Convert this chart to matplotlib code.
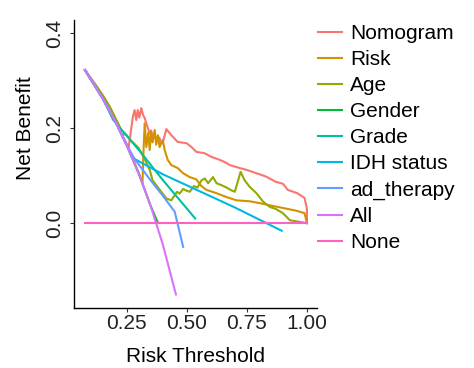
import matplotlib
matplotlib.use("Agg")
import matplotlib.pyplot as plt

plt.rcParams['font.family'] = ['Liberation Sans', 'DejaVu Sans']

# decision curves: threshold probability vs net benefit
nomogram_x = [0.077, 0.15, 0.20, 0.245, 0.258, 0.268, 0.276, 0.283, 0.290, 0.296, 0.303,
              0.311, 0.318, 0.325, 0.337, 0.346, 0.352, 0.358, 0.365, 0.372, 0.379, 0.386,
              0.393, 0.40, 0.415, 0.436, 0.462, 0.50, 0.52, 0.54, 0.575, 0.60, 0.638, 0.66,
              0.68, 0.72, 0.75, 0.79, 0.83, 0.87, 0.90, 0.92, 0.96, 0.99, 1.0, 1.0]
nomogram_y = [0.322, 0.263, 0.217, 0.170, 0.158, 0.195, 0.224, 0.238, 0.217, 0.238, 0.222,
              0.242, 0.228, 0.221, 0.202, 0.189, 0.195, 0.181, 0.188, 0.176, 0.175, 0.180,
              0.170, 0.168, 0.198, 0.185, 0.171, 0.168, 0.160, 0.150, 0.147, 0.140, 0.133, 0.128,
              0.122, 0.116, 0.112, 0.105, 0.098, 0.087, 0.083, 0.070, 0.063, 0.053, 0.030, 0.0]

risk_x = [0.077, 0.15, 0.20, 0.25, 0.30, 0.316, 0.320, 0.325, 0.332, 0.34, 0.346, 0.352,
          0.358, 0.367, 0.373, 0.38, 0.387, 0.394, 0.40, 0.408, 0.421, 0.436, 0.462, 0.485,
          0.512, 0.54, 0.561, 0.582, 0.624, 0.665, 0.707, 0.762, 0.804, 0.86, 0.90, 0.957,
          0.99, 1.0]
risk_y = [0.322, 0.263, 0.217, 0.165, 0.105, 0.085, 0.150, 0.210, 0.160, 0.190, 0.154, 0.192,
          0.170, 0.196, 0.165, 0.185, 0.160, 0.168, 0.175, 0.154, 0.133, 0.122, 0.116, 0.105,
          0.097, 0.092, 0.078, 0.070, 0.063, 0.055, 0.048, 0.046, 0.042, 0.036, 0.032, 0.026,
          0.021, 0.0]

age_x = [0.077, 0.12, 0.15, 0.18, 0.20, 0.222, 0.233, 0.24, 0.25, 0.26, 0.28, 0.30, 0.325,
         0.346, 0.358, 0.388, 0.415, 0.436, 0.45, 0.46, 0.47, 0.485, 0.50, 0.5125, 0.53, 0.545,
         0.561, 0.575, 0.589, 0.609, 0.624, 0.644, 0.665, 0.686, 0.70, 0.724, 0.741, 0.7625,
         0.79, 0.818, 0.846, 0.87, 0.90, 0.929, 1.0]
age_y = [0.322, 0.292, 0.270, 0.245, 0.225, 0.202, 0.181, 0.190, 0.185, 0.178, 0.168, 0.158,
         0.135, 0.112, 0.090, 0.070, 0.052, 0.048, 0.059, 0.066, 0.062, 0.072, 0.068, 0.066,
         0.078, 0.075, 0.090, 0.094, 0.084, 0.097, 0.084, 0.080, 0.075, 0.069, 0.066, 0.108,
         0.090, 0.076, 0.063, 0.045, 0.034, 0.030, 0.021, 0.006, 0.0]

gender_x = [0.077, 0.15, 0.20, 0.25, 0.30, 0.35, 0.378]
gender_y = [0.322, 0.263, 0.217, 0.165, 0.105, 0.036, 0.003]

grade_x = [0.077, 0.15, 0.193, 0.304, 0.40, 0.535]
grade_y = [0.322, 0.263, 0.218, 0.152, 0.091, 0.010]

idh_x = [0.077, 0.15, 0.20, 0.25, 0.272, 0.40, 0.55, 0.70, 0.895]
idh_y = [0.322, 0.263, 0.217, 0.165, 0.138, 0.103, 0.068, 0.033, -0.016]

adt_x = [0.077, 0.15, 0.20, 0.245, 0.283, 0.35, 0.40, 0.45, 0.485]
adt_y = [0.322, 0.263, 0.217, 0.170, 0.135, 0.090, 0.058, 0.024, -0.050]

all_x = [0.077, 0.10, 0.15, 0.20, 0.25, 0.30, 0.35, 0.40, 0.455]
all_y = [0.322, 0.304, 0.263, 0.217, 0.165, 0.105, 0.036, -0.044, -0.150]

none_x = [0.077, 1.0]
none_y = [0.0, 0.0]

labels = ["Nomogram", "Risk", "Age", "Gender", "Grade", "IDH status",
          "ad_therapy", "All", "None"]
colors = ["#F8766D", "#D39200", "#93AA00", "#00BA38", "#00C19F", "#00B9E3",
          "#619CFF", "#DB72FB", "#FF61C3"]
curves = [(nomogram_x, nomogram_y), (risk_x, risk_y), (age_x, age_y),
          (gender_x, gender_y), (grade_x, grade_y), (idh_x, idh_y),
          (adt_x, adt_y), (all_x, all_y), (none_x, none_y)]

fig = plt.figure(figsize=(4.74, 3.68), dpi=100)
ax = fig.add_axes([0.1561, 0.1644, 0.5133, 0.7813])

handles = []
for (xs, ys), lab, col in zip(curves, labels, colors):
    h, = ax.plot(xs, ys, color=col, lw=1.5, label=lab, solid_joinstyle='round')
    handles.append(h)

ax.set_xlim(0.031, 1.043)
ax.set_ylim(-0.1775, 0.4275)
ax.set_xticks([0.25, 0.50, 0.75, 1.00])
ax.set_xticklabels(["0.25", "0.50", "0.75", "1.00"])
ax.set_yticks([0.0, 0.2, 0.4])
ax.set_yticklabels(["0.0", "0.2", "0.4"], rotation=90, va='center')

for side in ["top", "right"]:
    ax.spines[side].set_visible(False)
for side in ["left", "bottom"]:
    ax.spines[side].set_linewidth(1.0)
    ax.spines[side].set_color("black")

ax.tick_params(axis='both', length=3, width=0.8, color='#333333',
               labelsize=15, labelcolor='#222222')
ax.tick_params(axis='x', pad=2)
ax.tick_params(axis='y', pad=4)

ax.set_xlabel("Risk Threshold", fontsize=15)
ax.set_ylabel("Net Benefit", fontsize=15)
ax.xaxis.set_label_coords(0.5, -0.169)
ax.yaxis.set_label_coords(-0.201, 0.624)
ax.xaxis.label.set_va('center')
ax.yaxis.label.set_va('center')

fig.legend(handles=handles, loc='upper left', bbox_to_anchor=(318 / 474, 1 - 24 / 368),
           frameon=False, fontsize=15, handlelength=1.15, handletextpad=0.4,
           labelspacing=0.34, borderpad=0, borderaxespad=0)

fig.savefig("out.png", dpi=100)
